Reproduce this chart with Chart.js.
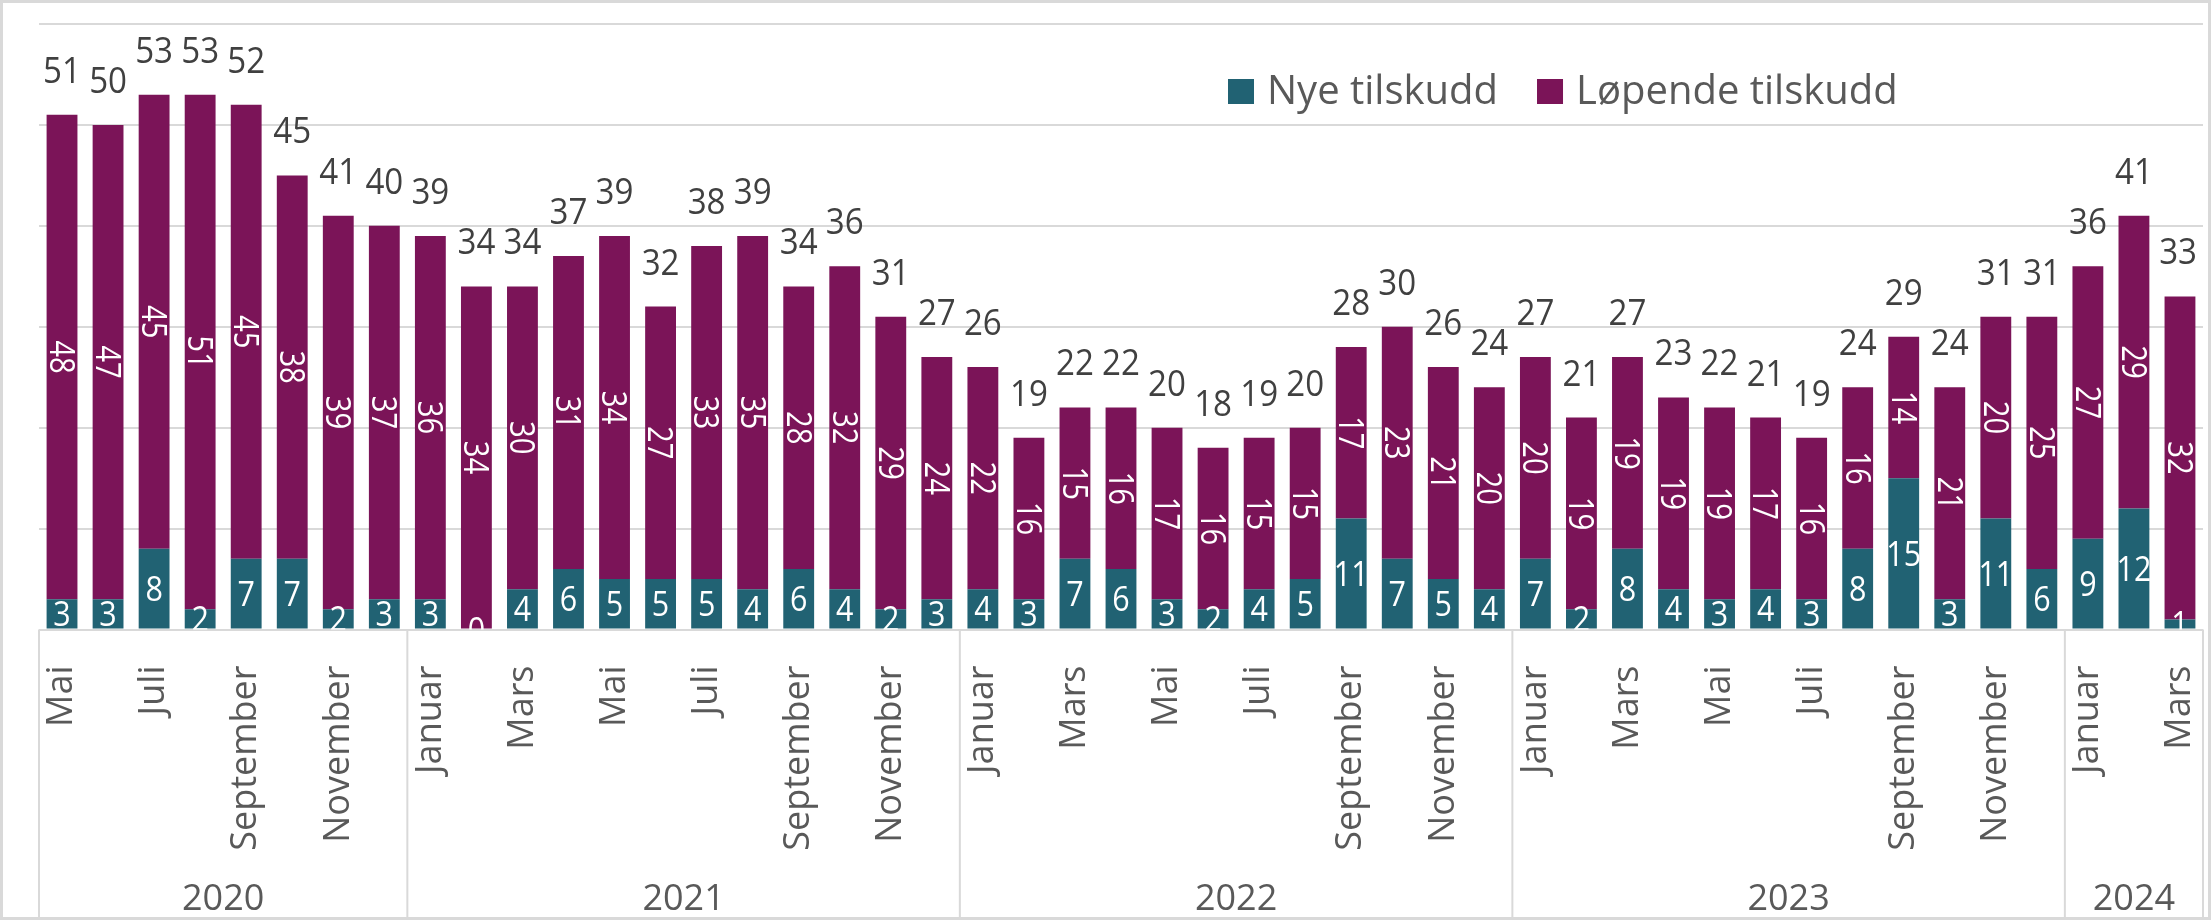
<!DOCTYPE html>
<html>
<head>
<meta charset="utf-8">
<script src="https://cdn.jsdelivr.net/npm/chart.js@4.4.1/dist/chart.umd.min.js"></script>
<style>
	html, body { margin: 0; padding: 0; background: #fff; }
	#wrap { width: 2211px; height: 920px; box-sizing: border-box; border: 3px solid #d9d9d9; }
	canvas { display: block; }
</style>
</head>
<body>
<div id="wrap"><canvas id="tilskuddChart" width="2205" height="914"></canvas></div>
<script>
const months = [
	'Mai', 'Juni', 'Juli', 'August', 'September', 'Oktober', 'November', 'Desember',
	'Januar', 'Februar', 'Mars', 'April', 'Mai', 'Juni', 'Juli', 'August', 'September', 'Oktober', 'November', 'Desember',
	'Januar', 'Februar', 'Mars', 'April', 'Mai', 'Juni', 'Juli', 'August', 'September', 'Oktober', 'November', 'Desember',
	'Januar', 'Februar', 'Mars', 'April', 'Mai', 'Juni', 'Juli', 'August', 'September', 'Oktober', 'November', 'Desember',
	'Januar', 'Februar', 'Mars',
];
const years = ['2020', '2021', '2022', '2023', '2024'];
const monthsPerYear = [8, 12, 12, 12, 3];

const nyeTilskudd = [
	3, 3, 8, 2, 7, 7, 2, 3,
	3, 0, 4, 6, 5, 5, 5, 4, 6, 4, 2, 3,
	4, 3, 7, 6, 3, 2, 4, 5, 11, 7, 5, 4,
	7, 2, 8, 4, 3, 4, 3, 8, 15, 3, 11, 6,
	9, 12, 1,
];
const lopendeTilskudd = [
	48, 47, 45, 51, 45, 38, 39, 37,
	36, 34, 30, 31, 34, 27, 33, 35, 28, 32, 29, 24,
	22, 16, 15, 16, 17, 16, 15, 15, 17, 23, 21, 20,
	20, 19, 19, 19, 19, 17, 16, 16, 14, 21, 20, 25,
	27, 29, 32,
];

const TEAL = '#216273';
const PURPLE = '#7b1458';
const GRID = '#d9d9d9';
const FONT = "'Open Sans', 'Noto Sans', sans-serif";

// draws a number with a slight horizontal squeeze, centred on (0,0) vertically by digit height
function squeezedText(ctx, text, size, sx) {
	ctx.font = `${size}px ${FONT}`;
	ctx.textAlign = 'center';
	ctx.textBaseline = 'alphabetic';
	ctx.scale(sx, 1);
	ctx.fillText(text, 0, size * 0.357);
}

const barLabels = {
	id: 'barLabels',
	afterDatasetsDraw(chart) {
		const { ctx, chartArea } = chart;
		const nyeMeta = chart.getDatasetMeta(0);
		const lopMeta = chart.getDatasetMeta(1);

		ctx.save();
		ctx.beginPath();
		ctx.rect(chartArea.left, chartArea.top, chartArea.right - chartArea.left, chartArea.bottom - chartArea.top);
		ctx.clip();
		ctx.fillStyle = '#ffffff';

		nyeMeta.data.forEach((bar, i) => {
			ctx.save();
			ctx.translate(bar.x, (bar.y + bar.base) / 2);
			squeezedText(ctx, String(nyeTilskudd[i]), 35, 0.87);
			ctx.restore();
		});

		lopMeta.data.forEach((bar, i) => {
			ctx.save();
			ctx.translate(bar.x, (bar.y + bar.base) / 2);
			ctx.rotate(Math.PI / 2);
			squeezedText(ctx, String(lopendeTilskudd[i]), 34, 0.86);
			ctx.restore();
		});
		ctx.restore();

		// totals over each stack
		ctx.save();
		ctx.fillStyle = '#404040';
		ctx.font = `36px ${FONT}`;
		lopMeta.data.forEach((bar, i) => {
			const total = String(nyeTilskudd[i] + lopendeTilskudd[i]);
			const half = ctx.measureText(total).width * 0.92 / 2;
			const top = Math.min(bar.y, nyeMeta.data[i].y);
			const x = Math.min(bar.x, chartArea.right - 6 - half);
			ctx.save();
			ctx.translate(x, top - 32);
			ctx.font = `36px ${FONT}`;
			ctx.textAlign = 'center';
			ctx.textBaseline = 'alphabetic';
			ctx.scale(0.92, 1);
			ctx.fillText(total, 0, 0);
			ctx.restore();
		});
		ctx.restore();
	},
};

const yearAxis = {
	id: 'yearAxis',
	afterDraw(chart) {
		const { ctx } = chart;
		const x = chart.scales.x;
		const step = x.getPixelForValue(1) - x.getPixelForValue(0);

		ctx.save();
		ctx.strokeStyle = GRID;
		ctx.lineWidth = 2;
		ctx.fillStyle = '#595959';
		ctx.font = `36px ${FONT}`;
		ctx.textAlign = 'center';
		ctx.textBaseline = 'alphabetic';

		let start = 0;
		const firstEdge = x.getPixelForValue(0) - step / 2;
		ctx.beginPath();
		ctx.moveTo(firstEdge, x.top);
		ctx.lineTo(firstEdge, chart.height);
		ctx.stroke();

		years.forEach((year, i) => {
			const end = start + monthsPerYear[i];
			const left = x.getPixelForValue(start) - step / 2;
			const right = x.getPixelForValue(end - 1) + step / 2;
			ctx.beginPath();
			ctx.moveTo(right, x.top);
			ctx.lineTo(right, chart.height);
			ctx.stroke();
			ctx.fillText(year, (left + right) / 2, chart.height - 7);
			start = end;
		});
		ctx.restore();
	},
};

const legendBox = {
	id: 'legendBox',
	afterDraw(chart) {
		const { ctx } = chart;
		let left = 1225;
		const top = 76;
		ctx.save();
		ctx.font = `40px ${FONT}`;
		ctx.textBaseline = 'alphabetic';
		ctx.textAlign = 'left';
		chart.data.datasets.forEach((ds) => {
			ctx.fillStyle = ds.backgroundColor;
			ctx.fillRect(left, top, 26, 25);
			ctx.fillStyle = '#595959';
			ctx.fillText(ds.label, left + 39, top + 25);
			left += 39 + ctx.measureText(ds.label).width + 39;
		});
		ctx.restore();
	},
};

new Chart(document.getElementById('tilskuddChart'), {
	type: 'bar',
	data: {
		labels: months,
		datasets: [
			{
				label: 'Nye tilskudd',
				data: nyeTilskudd,
				backgroundColor: TEAL,
				categoryPercentage: 1,
				barPercentage: 0.67,
			},
			{
				label: 'Løpende tilskudd',
				data: lopendeTilskudd,
				backgroundColor: PURPLE,
				categoryPercentage: 1,
				barPercentage: 0.67,
			},
		],
	},
	options: {
		responsive: false,
		animation: false,
		devicePixelRatio: 1,
		layout: { padding: { top: 21, right: 5, left: 0, bottom: 0 } },
		plugins: {
			legend: { display: false },
			tooltip: { enabled: false },
		},
		scales: {
			x: {
				stacked: true,
				grid: { display: false },
				border: { display: false },
				ticks: {
					autoSkip: false,
					minRotation: 90,
					maxRotation: 90,
					padding: 28,
					color: '#595959',
					font: { family: FONT, size: 36 },
					callback(value, index) {
						return index % 2 === 0 ? this.getLabelForValue(value) : '';
					},
				},
				afterFit(scale) {
					scale.height = 287.5;
					scale.paddingLeft = 0;
					scale.paddingRight = 0;
				},
			},
			y: {
				stacked: true,
				min: 0,
				max: 60,
				ticks: { display: false, stepSize: 10 },
				grid: { color: GRID, lineWidth: 2, drawTicks: false },
				border: { display: false },
				afterFit(scale) {
					scale.width = 36;
				},
			},
		},
	},
	plugins: [barLabels, yearAxis, legendBox],
});
</script>
</body>
</html>
